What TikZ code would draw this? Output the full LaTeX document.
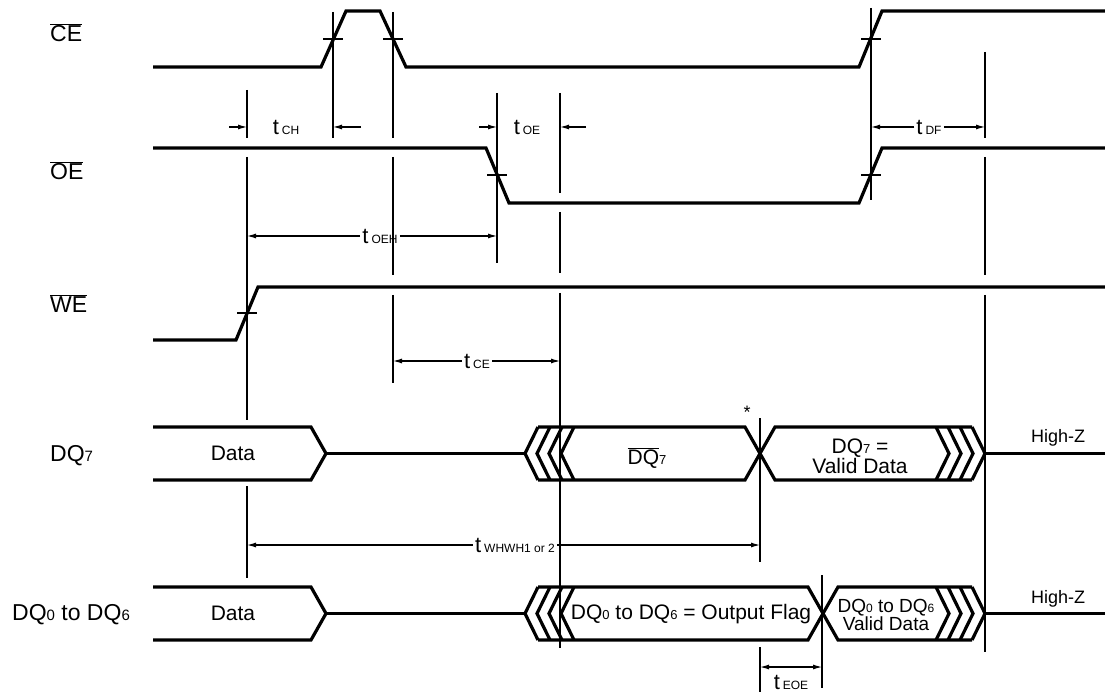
\documentclass[tikz,border=0pt]{standalone}
\usepackage{fontspec}
\setmainfont{Liberation Sans}
\usetikzlibrary{arrows.meta}
\newcommand\sd[1]{{\fontsize{13}{13}\selectfont #1}}
\newcommand\sdl[1]{{\fontsize{15}{15}\selectfont #1}}
\newcommand\sds[1]{{\fontsize{12}{12}\selectfont #1}}
\newcommand\tl[1]{{\fontsize{22}{22}\selectfont t}\hspace{3pt}{\fontsize{12}{12}\selectfont #1}}
\newcommand\ovl[1]{$\overline{\mbox{#1}}$}
\begin{document}
\begin{tikzpicture}[x=1pt,y=-1pt,
  sig/.style={line width=3.2pt},
  guide/.style={line width=1.1pt},
  tickmark/.style={line width=1.1pt},
  dim/.style={line width=1.1pt,-{Latex[length=9pt,width=5pt]}},
  dimb/.style={line width=1.1pt,{Latex[length=9pt,width=5pt]}-{Latex[length=9pt,width=5pt]}},
  siglab/.style={anchor=west,inner sep=0pt,font=\fontsize{23}{23}\selectfont},
  txt/.style={inner sep=0pt,font=\fontsize{21}{20}\selectfont,align=center},
  tlab/.style={inner sep=2pt}]
\useasboundingbox (0,0) rectangle (1105,692);

% guide x positions
\coordinate (vA) at (247,0);
\coordinate (vB) at (333,0);
\coordinate (vC) at (393,0);
\coordinate (vD) at (497,0);
\coordinate (vE) at (560,0);
\coordinate (vF) at (760,0);
\coordinate (vG) at (822,0);
\coordinate (vH) at (871,0);
\coordinate (vI) at (985,0);

% signal labels
\node[siglab] (lce) at (50,33) {\ovl{CE}};
\node[siglab] (loe) at (50,171) {\ovl{OE}};
\node[siglab] (lwe) at (50,304) {\ovl{WE}};
\node[siglab] (ldq7) at (50,456) {DQ\sdl{7}};
\node[siglab] (ldq06) at (12,615) {DQ\sdl{0} to DQ\sdl{6}};

% CE
\draw[sig] (153,67) -- (321,67) -- (346,11) -- (380,11) -- (406,67) -- (859,67) -- (882,11) -- (1105,11);
\draw[tickmark] (323,39) -- (343,39);
\draw[tickmark] (383,39) -- (403,39);
\draw[tickmark] (861,39) -- (881,39);
% OE
\draw[sig] (153,148) -- (486,148) -- (509,203) -- (859,203) -- (882,148) -- (1105,148);
\draw[tickmark] (487,175) -- (507,175);
\draw[tickmark] (861,175) -- (881,175);
% WE
\draw[sig] (153,340) -- (236,340) -- (258,287) -- (1105,287);
\draw[tickmark] (237,313) -- (257,313);

% guide lines
\draw[guide] (247,90) -- (247,138) (247,157) -- (247,420) (247,486) -- (247,578);
\draw[guide] (333,12) -- (333,138);
\draw[guide] (393,12) -- (393,138) (393,157) -- (393,275) (393,295) -- (393,383);
\draw[guide] (497,93) -- (497,263);
\draw[guide] (560,93) -- (560,193) (560,212) -- (560,273) (560,293) -- (560,648);
\draw[guide] (760,418) -- (760,562) (760,647) -- (760,692);
\draw[guide] (822,575) -- (822,688);
\draw[guide] (871,8) -- (871,200);
\draw[guide] (985,52) -- (985,138) (985,157) -- (985,275) (985,295) -- (985,652);

% DQ7 band
\draw[sig] (153,427) -- (311,427) -- (326,453.5) -- (311,480) -- (153,480);
\draw[sig] (326,453.5) -- (525,453.5);
\foreach \t in {525,537,549,561} \draw[sig] (\t+13,427) -- (\t,453.5) -- (\t+13,480);
\draw[sig] (538,427) -- (745,427) -- (775,480) -- (972,480);
\draw[sig] (538,480) -- (745,480) -- (775,427) -- (972,427);
\foreach \t in {949,961,973,985} \draw[sig] (\t-13,427) -- (\t,453.5) -- (\t-13,480);
\draw[sig] (985,453.5) -- (1105,453.5);

% DQ0-6 band
\draw[sig] (153,587) -- (311,587) -- (326,613.5) -- (311,640) -- (153,640);
\draw[sig] (326,613.5) -- (525,613.5);
\foreach \t in {525,537,549,561} \draw[sig] (\t+13,587) -- (\t,613.5) -- (\t+13,640);
\draw[sig] (538,587) -- (808,587) -- (838,640) -- (972,640);
\draw[sig] (538,640) -- (808,640) -- (838,587) -- (972,587);
\foreach \t in {949,961,973,985} \draw[sig] (\t-13,587) -- (\t,613.5) -- (\t-13,640);
\draw[sig] (985,613.5) -- (1105,613.5);

% band texts
\node[txt] (d7data) at (233,453.5) {Data};
\node[txt] (d7bar) at (647,458) {\ovl{DQ}\sd{7}};
\node[txt] (d7valid) at (860,456) {DQ\sd{7} =\\Valid Data};
\node[txt] (d06data) at (233,613.5) {Data};
\node[txt] (d06flag) at (691,614) {DQ\sd{0} to DQ\sd{6} = Output Flag};
\node[txt,font=\fontsize{19}{18}\selectfont] (d06valid) at (886,615) {DQ\sds{0} to DQ\sds{6}\\Valid Data};
\node[inner sep=0pt,font=\fontsize{18}{18}\selectfont] (hz7) at (1058,438) {High-Z};
\node[inner sep=0pt,font=\fontsize{18}{18}\selectfont] (hz06) at (1058,599) {High-Z};
\node[inner sep=0pt,font=\fontsize{18}{18}\selectfont] (ast) at (747,412) {*};

% timing labels and arrows
\node[tlab] (tch) at (286,127) {\tl{CH}};
\draw[dim] ([xshift=-18pt]vA |- tch) -- (vA |- tch);
\draw[dim] ([xshift=28pt]vB |- tch) -- (vB |- tch);

\node[tlab] (toe) at (527,127) {\tl{OE}};
\draw[dim] ([xshift=-18pt]vD |- toe) -- (vD |- toe);
\draw[dim] ([xshift=26pt]vE |- toe) -- (vE |- toe);

\node[tlab] (tdf) at (929,127) {\tl{DF}};
\draw[dim] (tdf.west) -- (vH |- tdf);
\draw[dim] (tdf.east) -- (vI |- tdf);

\node[tlab] (toeh) at (380,236) {\tl{OEH}};
\draw[dim] (toeh.west) -- (vA |- toeh);
\draw[dim] (toeh.east) -- (vD |- toeh);

\node[tlab] (tce) at (477,361) {\tl{CE}};
\draw[dim] (tce.west) -- (vC |- tce);
\draw[dim] (tce.east) -- (vE |- tce);

\node[tlab] (twh) at (515,545) {\tl{WHWH1 or 2}};
\draw[dim] (twh.west) -- (vA |- twh);
\draw[dim] (twh.east) -- (vF |- twh);

\coordinate (eoe) at (0,667);
\draw[dimb] (vF |- eoe) -- (vG |- eoe);
\node[tlab] (teoe) at (791,682) {\tl{EOE}};
\end{tikzpicture}
\end{document}
